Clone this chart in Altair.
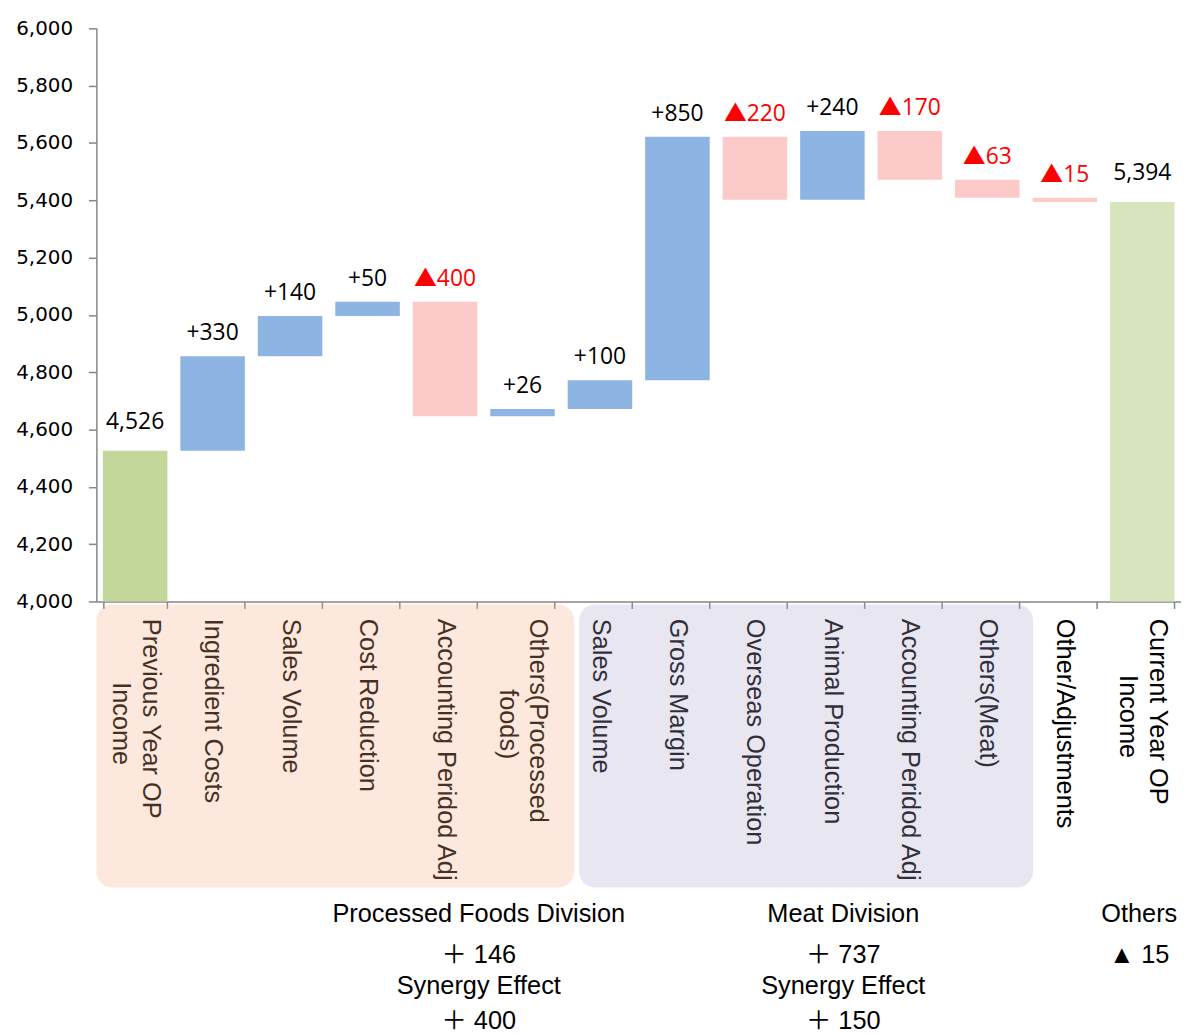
import json
import altair as alt
import pandas as pd

# ---------------- data ----------------
categories = [
    "Previous Year OP Income", "Ingredient Costs", "Sales Volume", "Cost Reduction",
    "Accounting Peridod Adj", "Others(Processed foods)", "Sales Volume", "Gross Margin",
    "Overseas Operation", "Animal Production", "Accounting Peridod Adj", "Others(Meat)",
    "Other/Adjustments", "Current Year OP Income",
]
axis_lines = [
    ["Previous Year OP", "Income"], ["Ingredient Costs"], ["Sales Volume"], ["Cost Reduction"],
    ["Accounting Peridod Adj"], ["Others(Processed", "foods)"], ["Sales Volume"], ["Gross Margin"],
    ["Overseas Operation"], ["Animal Production"], ["Accounting Peridod Adj"], ["Others(Meat)"],
    ["Other/Adjustments"], ["Current Year OP", "Income"],
]
values = [4526, 330, 140, 50, -400, 26, 100, 850, -220, 240, -170, -63, -15, 5394]
is_total = [True] + [False] * 12 + [True]
y_ticks = [4000, 4200, 4400, 4600, 4800, 5000, 5200, 5400, 5600, 5800, 6000]

summary_titles = ["Processed Foods Division", "Meat Division", "Others"]
summary_values = ["＋ 146", "＋ 737", "▲ 15"]
synergy_titles = ["Synergy Effect", "Synergy Effect"]
synergy_values = ["＋ 400", "＋ 150"]

# ---------------- waterfall table ----------------
rows = []
running = 0
for i, (cat, v, tot) in enumerate(zip(categories, values, is_total)):
    if tot:
        start, end = 0, v
        running = v
        kind = "first" if i == 0 else "last"
        label = f"{v:,}"
    else:
        start, end = running, running + v
        running = end
        kind = "up" if v > 0 else "down"
        label = f"+{v}" if v > 0 else f"▲{-v}"
    rows.append(dict(key=f"{i:02d}", cat=cat, start=start, end=end,
                     top=max(start, end), kind=kind, label=label))
df = pd.DataFrame(rows)
key_order = list(df["key"])

# centre the second line of two-line labels under the first one
pad = {0: 9, 5: 10, 13: 8}
SP = "\u200b\u00a0"  # zero-width space + no-break space (cannot be trimmed/collapsed)
label_arr = []
two_line_keys = []
for i, lines in enumerate(axis_lines):
    if len(lines) == 2:
        label_arr.append(lines[0] + "\n" + SP * pad.get(i, 0) + lines[1])
        two_line_keys.append(f"{i:02d}")
    else:
        label_arr.append(lines[0])
arr_js = json.dumps(label_arr, ensure_ascii=False)
label_expr = (
    f"isValid({arr_js}[toNumber(datum.value)]) ? "
    f"split({arr_js}[toNumber(datum.value)], '\\n') : ''"
)
two_line_test = " || ".join(f"datum.value == '{k}'" for k in two_line_keys)

GRAY = "#868686"
VALUE_FONT = "Open Sans, Noto Sans CJK JP"
NOTE_FONT = "Liberation Sans, Noto Sans CJK JP"

x_axis = alt.Axis(
    title=None, labelAngle=90, labelAlign="left", labelBaseline="middle",
    labelExpr=label_expr, labelFont="Liberation Sans", labelFontSize=25.5,
    labelColor="#000000", labelLimit=600, labelPadding=10, labelLineHeight=30,
    labelOffset={"condition": {"test": two_line_test, "value": 15}, "value": 0},
    labelOverlap=False, tickBand="extent", tickSize=7, tickColor=GRAY,
    domainColor=GRAY, domainWidth=1.5, tickWidth=1.5,
)
x_scale = alt.Scale(domain=key_order, paddingInner=0.167, paddingOuter=0.0835)
y_scale = alt.Scale(domain=[4000, 6000], zero=False, nice=False)
y_axis = alt.Axis(
    title=None, values=y_ticks, labelExpr="format(datum.value, ',')", grid=False,
    labelFont="DejaVu Sans", labelFontSize=20, labelColor="#000000",
    tickSize=8, labelPadding=16, tickColor=GRAY, domainColor=GRAY,
    domainWidth=1.5, tickWidth=1.5,
)

bars = alt.Chart(df).mark_bar(clip=True).encode(
    x=alt.X("key:N", sort=key_order, scale=x_scale, axis=x_axis),
    y=alt.Y("start:Q", scale=y_scale, axis=y_axis),
    y2="end:Q",
    color=alt.Color(
        "kind:N", legend=None,
        scale=alt.Scale(domain=["first", "last", "up", "down"],
                        range=["#c4d79b", "#d8e4bd", "#8eb4e3", "#fdcaca"]),
    ),
)

label_color = alt.condition("datum.kind == 'down'", alt.value("#ff0000"), alt.value("#000000"))

labels_tot = alt.Chart(df).transform_filter(
    "datum.kind == 'first' || datum.kind == 'last'"
).mark_text(font=VALUE_FONT, fontSize=23, baseline="alphabetic", dy=-22).encode(
    x=alt.X("key:N", sort=key_order, scale=x_scale, axis=x_axis),
    y=alt.Y("top:Q", scale=y_scale, axis=y_axis),
    text="label:N", color=label_color,
)
labels_delta = alt.Chart(df).transform_filter(
    "datum.kind == 'up' || datum.kind == 'down'"
).mark_text(font=VALUE_FONT, fontSize=23, baseline="alphabetic", dy=-16).encode(
    x=alt.X("key:N", sort=key_order, scale=x_scale, axis=x_axis),
    y=alt.Y("top:Q", scale=y_scale, axis=y_axis),
    text="label:N", color=label_color,
)

one = pd.DataFrame({"v": [0]})

# translucent rounded panels over the category labels
panel_food = alt.Chart(one).mark_rect(
    cornerRadius=16, color="#f6ae80", opacity=0.28
).encode(x=alt.value(0), x2=alt.value(481), y=alt.value(580), y2=alt.value(865))
panel_meat = alt.Chart(one).mark_rect(
    cornerRadius=16, color="#ada6c9", opacity=0.28
).encode(x=alt.value(486), x2=alt.value(943), y=alt.value(580), y2=alt.value(865))

# division summaries below the chart
col_x = [385, 752, 1050]
row_y = [892, 933, 964, 999]
notes = []


def note(txt, xx, yy):
    return alt.Chart(one).mark_text(
        font=NOTE_FONT, fontSize=25.5, align="center", baseline="middle", color="#000000"
    ).encode(x=alt.value(xx), y=alt.value(yy), text=alt.value(txt))


for t, xx in zip(summary_titles, col_x):
    notes.append(note(t, xx, row_y[0]))
for t, xx in zip(summary_values, col_x):
    notes.append(note(t, xx, row_y[1]))
for t, xx in zip(synergy_titles, col_x):
    notes.append(note(t, xx, row_y[2]))
for t, xx in zip(synergy_values, col_x):
    notes.append(note(t, xx, row_y[3]))

chart = alt.layer(
    bars, labels_tot, labels_delta, panel_food, panel_meat, *notes
).properties(
    width=1092, height=577,
    padding={"left": 89, "top": 17, "right": 0, "bottom": 432},
    autosize=alt.AutoSizeParams(type="none"),
    background="#ffffff",
).configure_view(stroke=None)

chart.save("out.html", embed_options={"renderer": "svg", "actions": False})
